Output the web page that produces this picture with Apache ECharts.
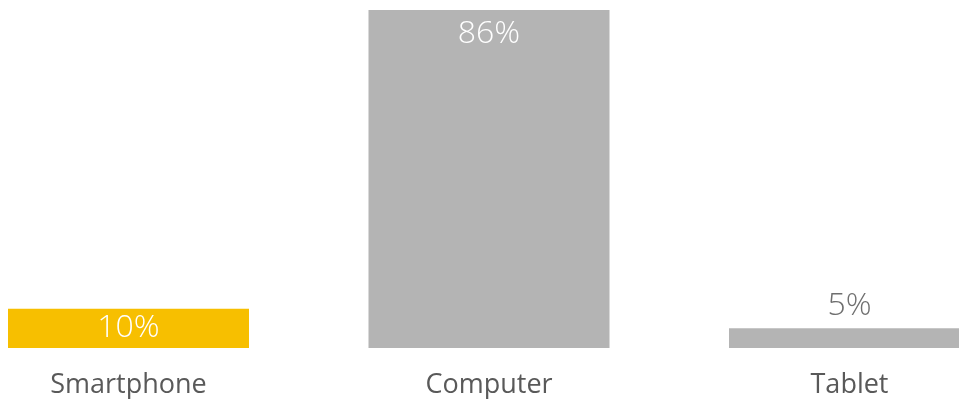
<!DOCTYPE html>
<html>
<head>
<meta charset="utf-8">
<script src="https://cdn.jsdelivr.net/npm/echarts@6/dist/echarts.min.js"></script>
<style>html,body{margin:0;padding:0;background:#fff;}#c{width:959px;height:399px;}</style>
</head>
<body>
<div id="c"></div>
<script>
const categories = ['Smartphone', 'Computer', 'Tablet'];
const values = [10, 86, 5];
const barColors = ['#F7BF00', '#B4B4B4', '#B4B4B4'];
const labelPositions = ['inside', 'insideTop', 'top'];
const labelColors = ['#ffffff', '#ffffff', '#6f6f6f'];

const chart = echarts.init(document.getElementById('c'));
chart.setOption({
  animation: false,
  grid: { left: -51.75, width: 1081.5, top: 10, bottom: 51, containLabel: false, outerBoundsMode: 'none' },
  xAxis: {
    type: 'category',
    data: categories,
    axisLine: { show: false },
    axisTick: { show: false },
    axisLabel: { color: '#595959', fontSize: 27, fontFamily: 'Open Sans', margin: 24 }
  },
  yAxis: { type: 'value', min: 0, max: 86, show: false, splitLine: { show: false } },
  series: [{
    type: 'bar',
    barWidth: 241,
    data: values.map((v, i) => ({
      value: v,
      itemStyle: { color: barColors[i] },
      label: {
        show: true,
        position: labelPositions[i],
        distance: labelPositions[i] === 'insideTop' ? 8 : 6,
        color: labelColors[i],
        fontSize: 32,
        fontWeight: 300,
        fontFamily: 'Open Sans',
        formatter: '{c}%'
      }
    }))
  }]
});
</script>
</body>
</html>
